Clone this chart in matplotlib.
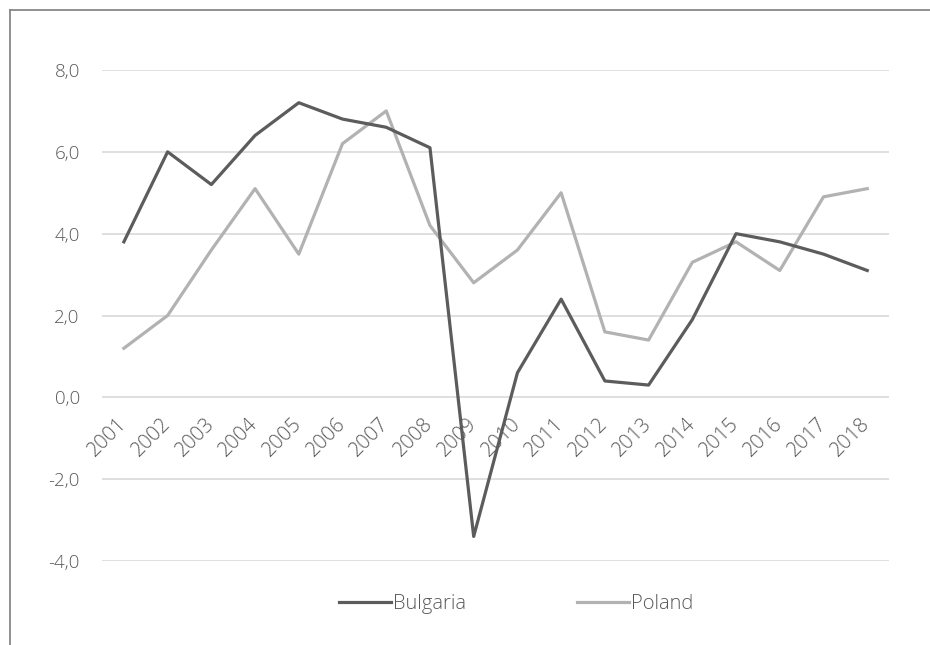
import matplotlib.pyplot as plt
from matplotlib.lines import Line2D

years = [str(y) for y in range(2001, 2019)]
bulgaria = [3.8, 6.0, 5.2, 6.4, 7.2, 6.8, 6.6, 6.1, -3.4, 0.6, 2.4, 0.4, 0.3, 1.9, 4.0, 3.8, 3.5, 3.1]
poland = [1.2, 2.0, 3.6, 5.1, 3.5, 6.2, 7.0, 4.2, 2.8, 3.6, 5.0, 1.6, 1.4, 3.3, 3.8, 3.1, 4.9, 5.1]
y_ticks = [-4, -2, 0, 2, 4, 6, 8]

plt.rcParams['font.family'] = ['Open Sans', 'DejaVu Sans']
plt.rcParams['font.weight'] = 'light'
txt = '#595959'

fig = plt.figure(figsize=(9.3, 6.45), dpi=100)
ax = fig.add_axes([0.1097, 0.1302, 0.8463, 0.7613])

x = range(len(years))
ax.plot(x, bulgaria, color='#5c5c5c', lw=2.3, label='Bulgaria', zorder=3)
ax.plot(x, poland, color='#b2b2b2', lw=2.3, label='Poland', zorder=2)

ax.set_xlim(-0.5, len(years) - 0.5)
ax.set_ylim(-4, 8)
ax.set_yticks(y_ticks)
ax.yaxis.set_major_formatter(plt.FuncFormatter(lambda v, p: ('%.1f' % v).replace('.', ',')))
ax.grid(axis='y', color='#d9d9d9', lw=1.2)
ax.set_axisbelow(True)
for s in ax.spines.values():
    s.set_visible(False)
ax.spines['bottom'].set_position(('data', 0))

ax.set_xticks(list(x))
ax.set_xticklabels(years, rotation=45, ha='right', va='center', rotation_mode='anchor')
ax.tick_params(axis='x', length=0, pad=17, labelsize=14.5, labelcolor=txt)
ax.tick_params(axis='y', length=0, pad=16, labelsize=13.5, labelcolor=txt)

fig.legend(loc='center', bbox_to_anchor=(0.555, 0.0636), ncol=2, frameon=False,
           fontsize=14.5, labelcolor=txt, handlelength=2.6, handletextpad=0.1,
           columnspacing=5.5)

# partial border around the chart
fig.add_artist(Line2D([10 / 930, 1], [1 - 10 / 645] * 2, color='#888888', lw=1.3))
fig.add_artist(Line2D([10 / 930] * 2, [0, 1 - 10 / 645], color='#888888', lw=1.3))

fig.savefig('out.png', dpi=100)
